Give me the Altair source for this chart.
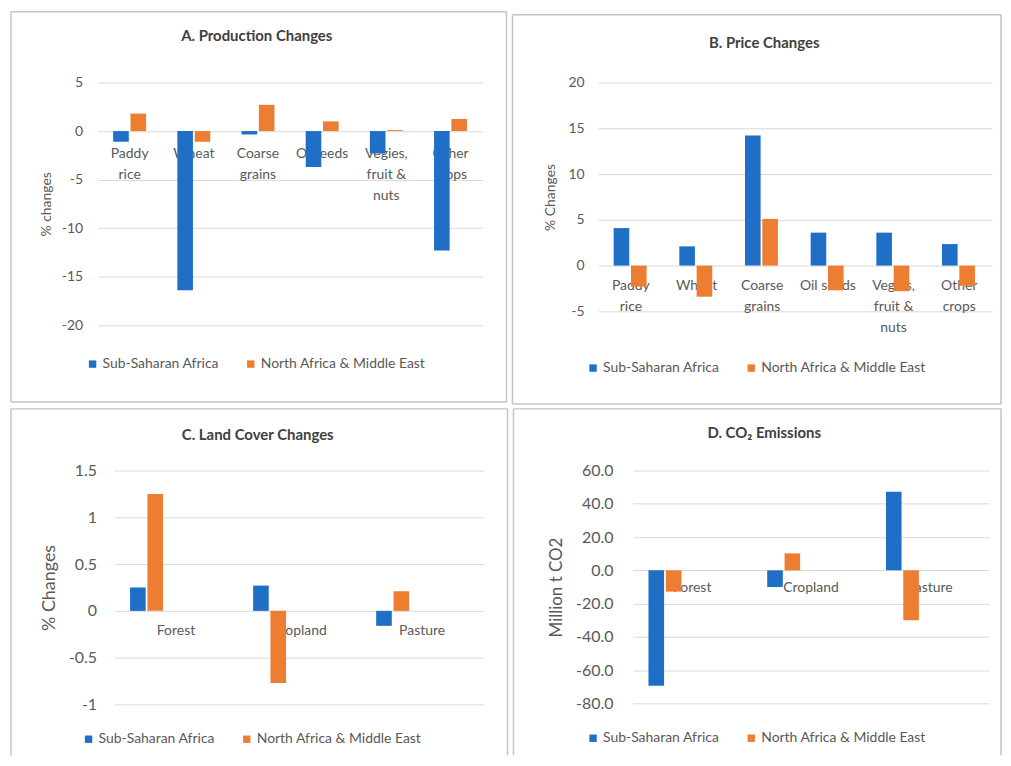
import altair as alt
import pandas as pd

# ---------------- data ----------------
regions = ["Sub-Saharan Africa", "North Africa & Middle East"]
region_colors = ["#1F6FC6", "#ED7D31"]

crops_a = ["Paddy\nrice", "Wheat", "Coarse\ngrains", "Oilseeds", "Vegies,\nfruit &\nnuts", "Other\ncrops"]
prod_ssa = [-1.1, -16.4, -0.35, -3.7, -2.3, -12.3]
prod_name = [1.8, -1.1, 2.7, 1.0, 0.1, 1.25]
ticks_a = [-20, -15, -10, -5, 0, 5]

crops_b = ["Paddy\nrice", "Wheat", "Coarse\ngrains", "Oil seeds", "Vegies,\nfruit &\nnuts", "Other\ncrops"]
price_ssa = [4.1, 2.1, 14.2, 3.6, 3.6, 2.35]
price_name = [-2.3, -3.4, 5.1, -2.7, -2.8, -2.2]
ticks_b = [-5, 0, 5, 10, 15, 20]

land_cats = ["Forest", "Cropland", "Pasture"]
land_ssa = [0.25, 0.27, -0.16]
land_name = [1.25, -0.77, 0.21]
ticks_c = [-1, -0.5, 0, 0.5, 1, 1.5]

co2_ssa = [-69.4, -10.0, 47.2]
co2_name = [-12.8, 10.2, -30.0]
ticks_d = [-80, -60, -40, -20, 0, 20, 40, 60]

# ---------------- styles ----------------
FONT = "Lato"
LABEL = "#595959"
TITLE = "#404040"
GRID = "#D9D9D9"
FRAME = "#C4C4C4"


def one_row():
    return alt.Chart(pd.DataFrame({"k": [0]}))


def frame_layers(x0, y0, x1, y1, bottom):
    m = dict(color=FRAME, strokeWidth=1.5)
    layers = [
        one_row().mark_rule(**m).encode(x=alt.value(x0), x2=alt.value(x1), y=alt.value(y0)),
        one_row().mark_rule(**m).encode(x=alt.value(x0), y=alt.value(y0), y2=alt.value(y1)),
        one_row().mark_rule(**m).encode(x=alt.value(x1), y=alt.value(y0), y2=alt.value(y1)),
    ]
    if bottom:
        layers.append(one_row().mark_rule(**m).encode(x=alt.value(x0), x2=alt.value(x1), y=alt.value(y1)))
    return layers


def spacer():
    return one_row().mark_rule(strokeWidth=0, opacity=0).encode(
        x=alt.value(0), y=alt.value(0), y2=alt.value(0)
    ).properties(width=1, height=1)


def panel(title, cats, ssa, name, ytitle, ticks, fmt, w, h, g):
    n = len(cats)
    df = pd.DataFrame({
        "category": cats * 2,
        "region": [regions[0]] * n + [regions[1]] * n,
        "value": ssa + name,
    })
    dmin, dmax = ticks[0], ticks[-1]
    zero_off = -h * (0 - dmin) / (dmax - dmin)
    yexpr = "(datum.value < 0 ? '-' : '') + format(abs(datum.value), '%s')" % fmt

    bars = alt.Chart(df).mark_bar().encode(
        x=alt.X(
            "category:N", sort=cats,
            scale=alt.Scale(paddingInner=0, paddingOuter=0),
            axis=alt.Axis(
                title=None, domain=False, ticks=False, grid=False, labelAngle=0,
                labelExpr="split(datum.label, '\\n')",
                labelFont=FONT, labelFontSize=g["xls"], labelColor=LABEL,
                labelPadding=g["xlp"], labelLineHeight=21, labelOverlap=False,
                labelLimit=200, offset=zero_off,
            ),
        ),
        xOffset=alt.XOffset("region:N", sort=regions,
                            scale=alt.Scale(paddingInner=g["pi"], paddingOuter=g["po"])),
        y=alt.Y(
            "value:Q",
            scale=alt.Scale(domain=[dmin, dmax], nice=False),
            axis=alt.Axis(
                values=ticks, grid=True, gridColor=GRID, gridWidth=1,
                domain=False, ticks=False, labelExpr=yexpr,
                labelFont=FONT, labelFontSize=g["yls"], labelColor=LABEL,
                labelPadding=g["ylp"],
                title=ytitle, titleFont=FONT, titleFontSize=g["yts"],
                titleFontWeight="normal", titleColor=LABEL,
                titleAngle=270, titleAlign="center", titleBaseline="middle",
                titleX=g["ytx"], titleY=h / 2,
            ),
        ),
        color=alt.Color(
            "region:N", sort=regions,
            scale=alt.Scale(domain=regions, range=region_colors),
            legend=alt.Legend(
                title=None, orient="none", direction="horizontal",
                legendX=g["lx"], legendY=g["ly"], padding=0,
                symbolType="square", symbolSize=55, symbolStrokeWidth=0,
                labelFont=FONT, labelFontSize=14, labelColor=LABEL,
                labelOffset=3, columnPadding=24, labelLimit=400,
            ),
        ),
    )

    ttl = one_row().mark_text(
        font=FONT, fontSize=15, fontWeight="bold", color=TITLE,
        align="center", baseline="middle",
    ).encode(x=alt.value(g["tx"]), y=alt.value(g["ty"]), text=alt.value(title))

    return alt.layer(bars, ttl, *frame_layers(*g["frame"])).properties(width=w, height=h)


# top row plot origins share one y (page 80); bottom row plot origins share one y (page 468)
pa = panel("A. Production Changes", crops_a, prod_ssa, prod_name, "% changes", ticks_a, "~g", 387, 244,
           dict(xls=14, xlp=16, yls=14, ylp=15, yts=14, ytx=-51, pi=0.1, po=0.9,
                lx=-12, ly=276, tx=160, ty=-47, frame=(-87, -71, 411, 321, True)))
pb = panel("B. Price Changes", crops_b, price_ssa, price_name, "% Changes", ticks_b, "~g", 396, 230,
           dict(xls=14, xlp=13, yls=14, ylp=14, yts=14, ytx=-48, pi=0.0, po=0.94,
                lx=-12, ly=280, tx=167, ty=-40, frame=(-86, -68, 405, 323, True)))
pc = panel("C. Land Cover Changes", land_cats, land_ssa, land_name, "% Changes", ticks_c, "~g", 371, 235,
           dict(xls=14, xlp=13, yls=16, ylp=18, yts=18, ytx=-65, pi=0.25, po=0.84,
                lx=-33, ly=263, tx=144, ty=-36, frame=(-104, -62, 395, 286, False)))
pd_ = panel("D. CO\u2082 Emissions", land_cats, co2_ssa, co2_name, "Million t CO2", ticks_d, ".1f", 358, 234,
            dict(xls=14, xlp=10, yls=16, ylp=20, yts=17, ytx=-77, pi=0.2, po=0.83,
                 lx=-47, ly=262, tx=132, ty=-38, frame=(-120, -62, 370, 286, False)))

top = alt.hconcat(spacer(), pa, pb, spacing=2).resolve_scale(color="independent").resolve_legend(color="independent")
bottom = alt.hconcat(spacer(), pc, pd_, spacing=2).resolve_scale(color="independent").resolve_legend(color="independent")

chart = (
    alt.vconcat(top, bottom, spacing=1)
    .resolve_scale(color="independent")
    .resolve_legend(color="independent")
    .properties(padding={"left": -4, "top": 0, "right": 0, "bottom": 0}, background="white")
    .configure_view(stroke="transparent")
)

chart.save("out.html", embed_options={"renderer": "svg", "actions": False})
